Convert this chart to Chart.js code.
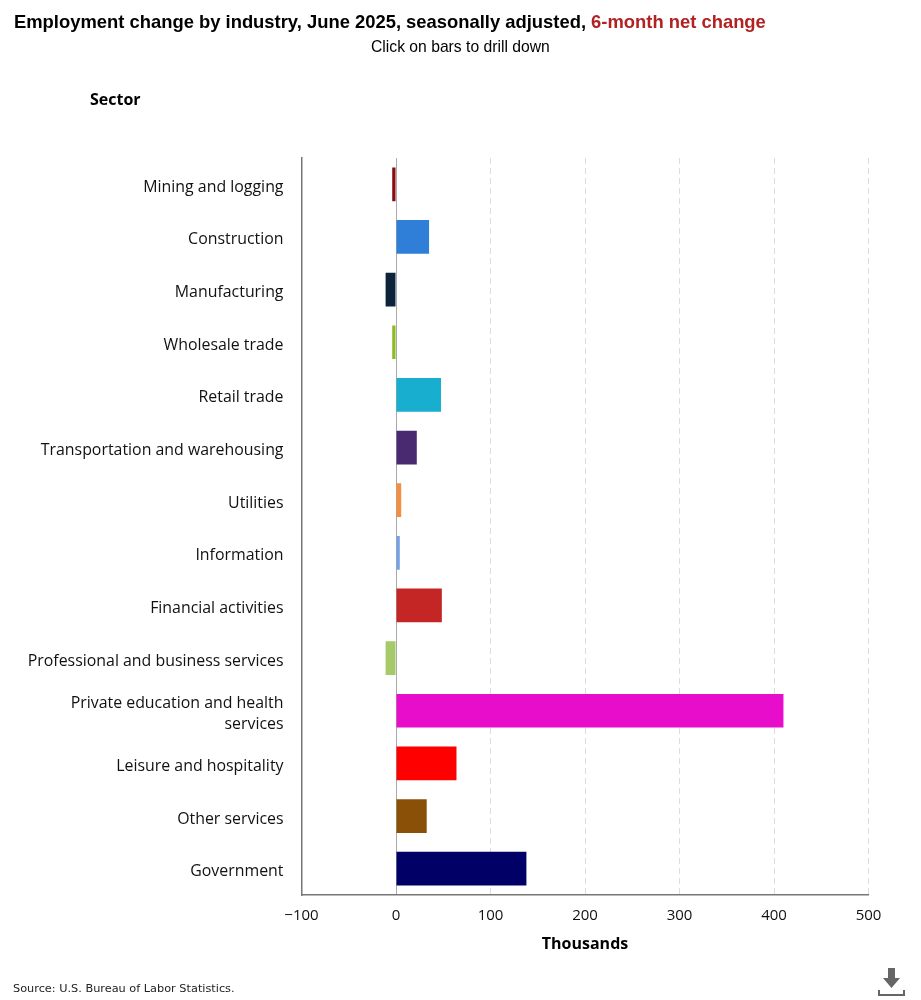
<!DOCTYPE html>
<html>
<head>
<meta charset="utf-8">
<title>Employment change by industry</title>
<script src="https://cdn.jsdelivr.net/npm/chart.js@4"></script>
<style>
    html, body { margin: 0; padding: 0; background: #fff; }
    #wrap { position: relative; width: 921px; height: 1000px; overflow: hidden; }
    #grafica { position: absolute; left: 0; top: 0; }
    .texto { position: absolute; white-space: nowrap; color: #000; }
    #titulo { left: 14px; top: 11px; font: bold 18.4px "Liberation Sans", sans-serif; }
    #titulo span { color: #b22222; }
    #subtitulo { left: 371px; top: 38px; font: 15.7px "Liberation Sans", sans-serif; }
    #sector { left: 90px; top: 88px; font: bold 16px "Open Sans", sans-serif; }
    #fuente { left: 13px; top: 982px; font: 11.3px "DejaVu Sans", sans-serif; color: #222; }
    #descarga { position: absolute; left: 877px; top: 967px; }
</style>
</head>
<body>
<div id="wrap">
    <canvas id="grafica" width="921" height="1000"></canvas>
    <div class="texto" id="titulo">Employment change by industry, June 2025, seasonally adjusted, <span>6-month net change</span></div>
    <div class="texto" id="subtitulo">Click on bars to drill down</div>
    <div class="texto" id="sector">Sector</div>
    <div class="texto" id="fuente">Source: U.S. Bureau of Labor Statistics.</div>
    <svg id="descarga" width="29" height="30" viewBox="0 0 29 30">
        <path d="M11 1h7v10h5l-8.500 10L6 11h5z" fill="#666"/>
        <path d="M2 23v5h25v-5" fill="none" stroke="#666" stroke-width="2"/>
    </svg>
</div>
<script>
const sectores = [
    'Mining and logging', 'Construction', 'Manufacturing', 'Wholesale trade', 'Retail trade',
    'Transportation and warehousing', 'Utilities', 'Information', 'Financial activities',
    'Professional and business services', ['Private education and health', 'services'],
    'Leisure and hospitality', 'Other services', 'Government'
];
const cambioNeto = [-4, 35, -11, -4, 47.6, 22, 5.5, 4, 48.5, -11, 410, 64, 32.5, 138];
const colores = [
    '#8b0a0f', '#2f7ed8', '#0d233a', '#8bbc21', '#17aecf', '#492970', '#f28f43',
    '#77a1e5', '#c42525', '#a6c96a', '#e80ccb', '#ff0000', '#8b5008', '#000066'
];

const fuenteEjes = '"Open Sans", sans-serif';

new Chart(document.getElementById('grafica'), {
    type: 'bar',
    data: {
        labels: sectores,
        datasets: [{
            data: cambioNeto,
            backgroundColor: colores,
            barPercentage: 0.64,
            categoryPercentage: 1
        }]
    },
    options: {
        indexAxis: 'y',
        responsive: false,
        animation: false,
        layout: { padding: { top: 158, right: 52.5, bottom: 42 } },
        plugins: { legend: { display: false }, tooltip: { enabled: false } },
        scales: {
            y: {
                afterFit: scale => { scale.width = 301.5; },
                grid: { display: false },
                border: { color: '#777', width: 1.5 },
                ticks: {
                    color: '#111',
                    padding: 10,
                    labelOffset: 3,
                    font: { family: fuenteEjes, size: 15.9, lineHeight: 1.35 }
                }
            },
            x: {
                min: -100,
                max: 500,
                afterFit: scale => { scale.height = 63; },
                border: {
                    color: '#777',
                    width: 1.5,
                    // la linea del cero es continua, las demas punteadas
                    dash: ctx => (ctx.tick && ctx.tick.value === 0) ? [] : [6, 4]
                },
                grid: {
                    drawTicks: false,
                    color: ctx => (ctx.tick && ctx.tick.value === 0) ? '#aaa' : '#ddd',
                    lineWidth: 1
                },
                ticks: {
                    stepSize: 100,
                    color: '#111',
                    padding: 12,
                    maxRotation: 0,
                    font: { family: fuenteEjes, size: 15 },
                    callback: v => String(v).replace('-', '\u2212')
                },
                title: {
                    display: true,
                    text: 'Thousands',
                    color: '#000',
                    padding: { top: 8 },
                    font: { family: fuenteEjes, size: 16, weight: 'bold' }
                }
            }
        }
    }
});
</script>
</body>
</html>
